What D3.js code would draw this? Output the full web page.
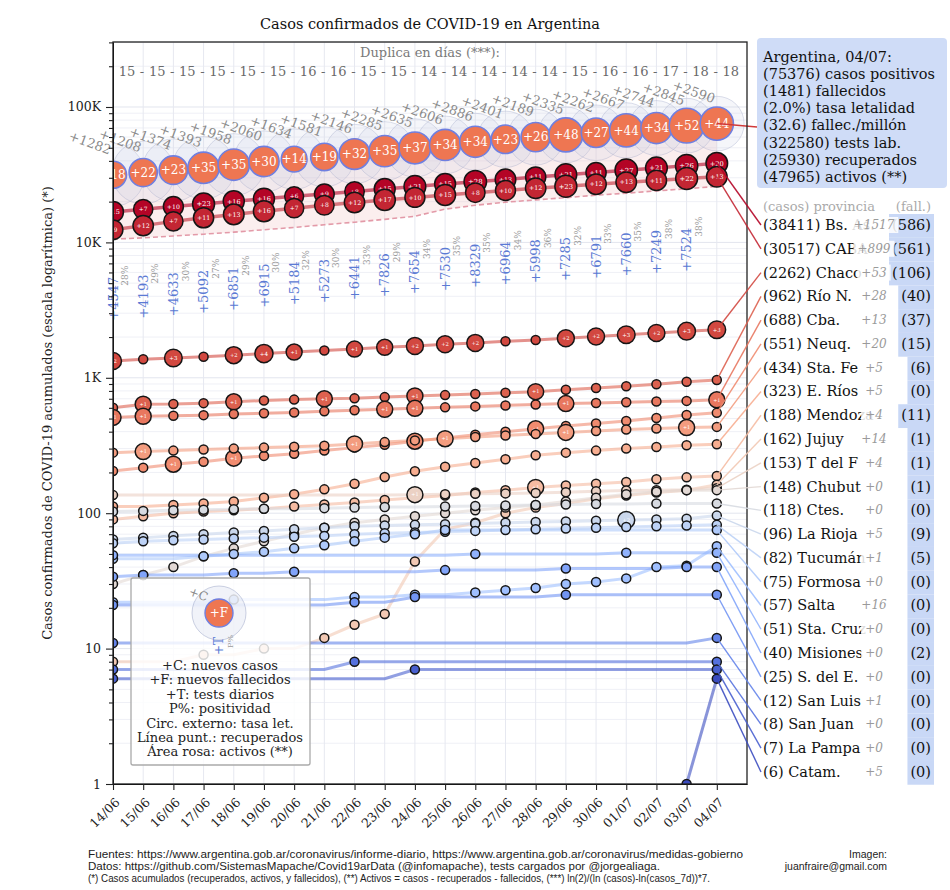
<!DOCTYPE html>
<html>
<head>
<meta charset="utf-8">
<title>Casos confirmados de COVID-19 en Argentina</title>
<script src="https://d3js.org/d3.v7.min.js"></script>
<style>
  body { margin: 0; background: #fff; }
  svg text { font-family: "DejaVu Serif", serif; }
  .foot { font-family: "Liberation Sans Narrow", "Liberation Sans", sans-serif; font-size: 10.5px; fill: #222; }
</style>
</head>
<body>
<div id="chart"></div>
<script>
// fechas (eje x)
const dates = ["14/06","15/06","16/06","17/06","18/06","19/06","20/06","21/06","22/06","23/06","24/06",
  "25/06","26/06","27/06","28/06","29/06","30/06","01/07","02/07","03/07","04/07"];
const yTickVals = [1, 10, 100, 1000, 10000, 100000];
const yTickLabels = ["1", "10", "100", "1K", "10K", "100K"];

// Argentina (total)
const argCasos = [31577,32785,34159,35552,37510,39570,41204,42785,44931,47216,49851,52457,55343,57744,59933,62268,64530,67197,69941,72786,75376];
const argNuevos = [1282,1208,1374,1393,1958,2060,1634,1581,2146,2285,2635,2606,2886,2401,2189,2335,2262,2667,2744,2845,2590];
const argNuevosFall = [18,22,23,35,35,30,14,19,32,35,37,34,34,23,26,48,27,44,34,52,44];
const argFall = [833,855,878,913,948,978,992,1011,1043,1078,1115,1149,1183,1206,1232,1280,1307,1351,1385,1437,1481];
const argRecuperados = [10570,10800,11150,11500,11900,12400,12900,13500,14100,14800,15600,17600,18800,19800,20600,21400,22300,23100,24000,24900,25930];
const tests = [4547,4193,4633,5092,6851,6915,5184,5273,6441,7826,7654,7530,8329,6964,5998,7285,6791,7660,7249,7524];
const positividad = [28,29,30,27,29,30,32,30,33,29,34,35,35,34,36,32,33,35,38,38];
const duplica = [15,15,15,15,15,15,16,16,15,15,14,14,14,14,14,15,16,16,17,18,18];
const resumen = ["Argentina, 04/07:", "(75376) casos positivos", "(1481) fallecidos", "(2.0%) tasa letalidad",
  "(32.6) fallec./millón", "(322580) tests lab.", "(25930) recuperados", "(47965) activos (**)"];

// provincias: casos acumulados por día
const casosBsAs = [16800,17600,18400,19200,20100,21000,21900,22800,23800,24800,25900,27000,28100,29200,30400,31600,32800,34100,35500,36894,38411];
const casosCABA = [12400,13300,14300,15200,16100,17000,17900,18800,19700,20600,21500,22400,23300,24200,25100,26000,26900,27800,28700,29618,30517];
const casosChaco = [1330,1370,1400,1430,1470,1510,1550,1590,1630,1680,1720,1770,1810,1860,1900,1960,2020,2080,2140,2209,2262];
const casosRioN = [600,638,640,650,665,680,690,700,705,720,735,745,760,775,790,815,840,865,895,934,962];
const casosCba = [510,520,525,530,540,548,555,565,575,585,595,605,615,625,635,645,652,660,668,675,688];
const casosNeuq = [205,217,230,240,255,265,275,290,305,320,340,360,380,400,420,440,460,480,505,531,551];
const casosStaFe = [280,285,290,295,300,305,310,315,325,335,345,355,365,375,385,395,405,415,422,429,434];
const casosERios = [112,112,115,118,122,130,138,150,165,185,204,220,235,250,268,280,290,300,308,318,323];
const casosMendoza = [90,95,100,103,105,108,112,116,120,125,130,135,142,148,155,160,165,170,178,184,188];
const casosJujuy = [8,8,8,9,9,10,10,12,15,18,44,76,85,100,110,118,128,135,142,148,162];
const casosTdelF = [136,136,136,136,136,136,136,136,136,136,137,138,139,140,141,143,145,147,148,149,153];
const casosChubut = [30,35,40,48,55,62,70,78,85,90,95,100,105,110,115,122,130,138,144,148,148];
const casosCtes = [103,104,105,106,107,108,108,109,110,111,111,112,113,114,115,116,117,117,118,118,118];
const casosLaRioja = [64,66,68,70,72,74,76,78,80,81,82,83,84,85,86,87,88,89,90,91,96];
const casosTucuman = [60,62,63,64,65,66,67,68,70,71,72,73,74,75,76,77,78,79,80,81,82];
const casosFormosa = [46,46,46,48,50,52,55,58,62,66,70,75,75,75,75,75,75,75,75,75,75];
const casosSalta = [22,22,22,22,23,23,23,23,24,24,25,25,26,27,28,30,31,33,40,41,57];
const casosStaCruz = [49,49,49,49,49,49,49,49,49,49,49,49,50,50,50,50,50,51,51,51,51];
const casosMisiones = [34,35,35,35,36,36,37,37,37,37,37,38,38,38,38,39,39,39,39,40,40];
const casosSdelE = [21,21,21,21,21,21,21,21,22,22,24,24,24,24,24,25,25,25,25,25,25];
const casosSanLuis = [11,11,11,11,11,11,11,11,11,11,11,11,11,11,11,11,11,11,11,11,12];
const casosSanJuan = [7,7,7,7,7,7,7,7,8,8,8,8,8,8,8,8,8,8,8,8,8];
const casosLaPampa = [6,6,6,6,6,6,6,6,6,6,7,7,7,7,7,7,7,7,7,7,7];
const casosCatam = [null,null,null,null,null,null,null,null,null,null,null,null,null,null,null,null,null,null,null,1,6];

// nuevos fallecidos por día
const fallBsAs = [15,7,10,23,16,16,6,9,8,15,21,15,28,13,11,21,11,27,21,26,20];
const fallCABA = [9,12,7,11,13,16,7,8,12,17,10,15,8,10,12,23,12,13,11,22,13];
const fallChaco = [2,0,3,0,2,4,1,0,1,1,2,2,2,0,0,2,2,3,2,3,3];
const fallRioN = [0,1,0,0,1,0,0,1,0,0,1,0,0,0,1,0,0,0,0,0,0];
const fallCba = [1,1,0,0,0,0,0,0,0,1,1,0,0,0,0,1,0,0,0,0,1];
const fallNeuq = [0,0,1,0,1,0,0,0,0,0,1,0,0,0,1,0,0,0,0,0,0];
const fallStaFe = [0,1,0,0,0,0,0,0,1,0,0,1,0,0,0,1,0,0,0,1,0];
const fallTdelF = [0,0,0,0,0,0,0,0,0,0,1,0,0,0,0,0,0,0,0,0,0];
const fallMendoza = [0,0,0,0,0,0,0,0,0,0,0,0,0,0,1,0,0,0,0,0,0];
const fallLaRioja = [0,0,0,0,0,0,0,0,0,0,0,0,0,0,0,0,0,2,0,0,0];

const provNames = ["Bs. As.","CABA","Chaco","Río N.","Cba.","Neuq.","Sta. Fe","E. Ríos","Mendoza","Jujuy","T del F","Chubut",
  "Ctes.","La Rioja","Tucumán","Formosa","Salta","Sta. Cruz","Misiones","S. del E.","San Luis","San Juan","La Pampa","Catam."];
const provFallTotal = [586,561,106,40,37,15,6,0,11,1,1,1,0,9,5,0,0,0,2,0,0,0,0,0];
const provCasos = [casosBsAs,casosCABA,casosChaco,casosRioN,casosCba,casosNeuq,casosStaFe,casosERios,casosMendoza,casosJujuy,
  casosTdelF,casosChubut,casosCtes,casosLaRioja,casosTucuman,casosFormosa,casosSalta,casosStaCruz,casosMisiones,casosSdelE,
  casosSanLuis,casosSanJuan,casosLaPampa,casosCatam];
const provFall = [fallBsAs,fallCABA,fallChaco,fallRioN,fallCba,fallNeuq,fallStaFe,null,fallMendoza,null,
  fallTdelF,null,null,fallLaRioja,null,null,null,null,null,null,null,null,null,null];

const leyenda = ["+C: nuevos casos","+F: nuevos fallecidos","+T: tests diarios","P%: positividad",
  "Circ. externo: tasa let.","Línea punt.: recuperados","Área rosa: activos (**)"];
const fuentes = ["Fuentes: https://www.argentina.gob.ar/coronavirus/informe-diario, https://www.argentina.gob.ar/coronavirus/medidas-gobierno",
  "Datos: https://github.com/SistemasMapache/Covid19arData (@infomapache), tests cargados por @jorgealiaga.",
  "(*) Casos acumulados (recuperados, activos, y fallecidos), (**) Activos = casos - recuperados - fallecidos, (***) ln(2)/(ln (casos)-ln(casos_7d))*7."];
const fuentesAncho = [655, 572, 622];

// ---------------------------------------------------------------
const W = 950, H = 890;
const plot = {left: 113, right: 747, top: 42, bottom: 784};
const svg = d3.select("#chart").append("svg").attr("width", W).attr("height", H);

const x = d3.scaleLinear().domain([0, 21]).range([plot.left, plot.right]);
const y = d3.scaleLog().domain([1, Math.pow(10, 5.48)]).range([plot.bottom, plot.top]);

const cwStops = ["#3b4cc0","#5977e3","#7b9ff9","#9ebeff","#c0d4f5","#dddcdc","#f2cbb7","#f7ac8e","#ee8468","#d65244","#b40426"];
const coolwarm = d3.scaleLinear().domain(d3.range(11).map(i => i / 10)).range(cwStops);
const provColor = i => coolwarm(1 - i / 23);

svg.append("clipPath").attr("id", "clip").append("rect")
  .attr("x", plot.left).attr("y", plot.top)
  .attr("width", plot.right - plot.left).attr("height", plot.bottom - plot.top);

// grid
const minorVals = [];
for (let e = 0; e <= 5; e++) for (let k = 2; k <= 9; k++) {
  const v = k * Math.pow(10, e);
  if (v < Math.pow(10, 5.48)) minorVals.push(v);
}
const grid = svg.append("g");
grid.selectAll(".gm").data(minorVals).enter().append("line")
  .attr("x1", plot.left).attr("x2", plot.right).attr("y1", d => y(d)).attr("y2", d => y(d))
  .attr("stroke", "#eff0f6").attr("stroke-width", 1);
grid.selectAll(".gM").data(yTickVals).enter().append("line")
  .attr("x1", plot.left).attr("x2", plot.right).attr("y1", d => y(d)).attr("y2", d => y(d))
  .attr("stroke", "#e2e5ee").attr("stroke-width", 1);
grid.selectAll(".gx").data(dates).enter().append("line")
  .attr("x1", (d, i) => x(i)).attr("x2", (d, i) => x(i)).attr("y1", plot.top).attr("y2", plot.bottom)
  .attr("stroke", "#e6e8f0").attr("stroke-width", 1);

const g = svg.append("g").attr("clip-path", "url(#clip)");

// área activos
const idx = d3.range(dates.length);
g.append("path").datum(idx)
  .attr("d", d3.area().x(i => x(i)).y0(i => y(argRecuperados[i])).y1(i => y(argCasos[i])))
  .attr("fill", "#f2c6c6").attr("opacity", 0.3);

// circulos externos (tasa de letalidad)
g.selectAll(".outer").data(idx).enter().append("circle")
  .attr("cx", i => x(i)).attr("cy", i => y(argCasos[i]))
  .attr("r", i => 19.5 * Math.sqrt(100 * argFall[i] / argCasos[i]))
  .attr("fill", "#c9cfe6").attr("fill-opacity", 0.18)
  .attr("stroke", "#9aa3c6").attr("stroke-opacity", 0.35);

// recuperados
g.append("path").datum(idx)
  .attr("d", d3.line().x(i => x(i)).y(i => y(argRecuperados[i])))
  .attr("fill", "none").attr("stroke", "#e39aa8").attr("stroke-width", 1.6).attr("stroke-dasharray", "5,3");

// provincias: lineas
const line = d3.line().defined(d => d != null).x((d, i) => x(i)).y(d => y(d));
provCasos.forEach((casos, p) => {
  g.append("path").datum(casos).attr("d", line)
    .attr("fill", "none").attr("stroke", provColor(p))
    .attr("stroke-width", p < 2 ? 3.5 : 3).attr("stroke-opacity", 0.6);
});

// provincias: circulos
const rProv = d => d > 0 ? 5 + 3 * Math.pow(d, 0.22) : 4.5;
provCasos.forEach((casos, p) => {
  const fall = provFall[p];
  const pts = [];
  casos.forEach((v, i) => {
    if (v == null) return;
    const prev = i > 0 ? casos[i - 1] : null;
    const d = fall ? fall[i] : 0;
    if (prev == null || v > prev || d > 0 || i === casos.length - 1) pts.push({i, v, d});
  });
  const gp = g.append("g");
  gp.selectAll("circle").data(pts).enter().append("circle")
    .attr("cx", d => x(d.i)).attr("cy", d => y(d.v)).attr("r", d => rProv(d.d))
    .attr("fill", provColor(p)).attr("stroke", "#151515").attr("stroke-width", 1.5);
  gp.selectAll("text").data(pts.filter(d => d.d > 0)).enter().append("text")
    .attr("x", d => x(d.i)).attr("y", d => y(d.v)).attr("dy", "0.35em")
    .attr("text-anchor", "middle").attr("fill", "#fff")
    .attr("font-size", d => rProv(d.d) * 0.62)
    .text(d => "+" + d.d);
});

// Argentina: linea y circulos
const rArg = d => 8 + 1.3 * Math.sqrt(d);
svg.append("line")
  .attr("x1", x(20)).attr("y1", y(argCasos[20])).attr("x2", 757).attr("y2", 127)
  .attr("stroke", "#d03a3a").attr("stroke-width", 1.5);
g.selectAll(".arg").data(idx).enter().append("circle")
  .attr("cx", i => x(i)).attr("cy", i => y(argCasos[i])).attr("r", i => rArg(argNuevosFall[i]))
  .attr("fill", "#ee7652").attr("stroke", "#6f7fe0").attr("stroke-width", 1.6);
g.selectAll(".argt").data(idx).enter().append("text")
  .attr("x", i => x(i)).attr("y", i => y(argCasos[i])).attr("dy", "0.36em")
  .attr("text-anchor", "middle").attr("fill", "#fff").attr("font-size", 12)
  .text(i => "+" + argNuevosFall[i]);

// nuevos casos (etiquetas grises inclinadas)
svg.selectAll(".nc").data(idx).enter().append("text")
  .attr("transform", i => `translate(${x(i) - 23},${y(argCasos[i]) - 32}) rotate(20)`)
  .attr("text-anchor", "middle").attr("dy", "0.35em")
  .attr("fill", "#8a8a8a").attr("font-size", 13)
  .text(i => "+" + argNuevos[i]);

// tests y positividad
svg.selectAll(".tests").data(tests).enter().append("text")
  .attr("transform", (d, i) => `translate(${x(i)},${y(argCasos[i]) + 102}) rotate(-90)`)
  .attr("text-anchor", "end").attr("dy", "0.35em")
  .attr("fill", "#5b7ad4").attr("font-size", 13)
  .text(d => "+" + d);
svg.selectAll(".pos").data(positividad).enter().append("text")
  .attr("transform", (d, i) => `translate(${x(i) + 12},${y(argCasos[i]) + 91}) rotate(-90)`)
  .attr("text-anchor", "end").attr("dy", "0.35em")
  .attr("fill", "#9a9a9a").attr("font-size", 9)
  .text(d => d + "%");

// duplica en dias
svg.append("text").attr("x", 430).attr("y", 57).attr("text-anchor", "middle")
  .attr("fill", "#7a7a7a").attr("font-size", 13).text("Duplica en días (***):");
svg.selectAll(".dup").data(duplica).enter().append("text")
  .attr("x", (d, i) => x(i) + 14).attr("y", 76).attr("text-anchor", "middle")
  .attr("fill", "#6a6a6a").attr("font-size", 13).text(d => d);
svg.selectAll(".dupsep").data(duplica.slice(1)).enter().append("text")
  .attr("x", (d, i) => x(i) + 29).attr("y", 76).attr("text-anchor", "middle")
  .attr("fill", "#6a6a6a").attr("font-size", 13).text("-");

// ejes
svg.append("g").attr("transform", `translate(${plot.left},0)`)
  .call(d3.axisLeft(y).tickValues(yTickVals).tickFormat((d, i) => yTickLabels[i]).tickSize(7).tickPadding(5).tickSizeOuter(0));
svg.append("g").attr("transform", `translate(${plot.left},0)`)
  .call(d3.axisLeft(y).tickValues(minorVals).tickFormat("").tickSize(4).tickSizeOuter(0))
  .select(".domain").remove();
const xAxis = svg.append("g").attr("transform", `translate(0,${plot.bottom})`)
  .call(d3.axisBottom(x).tickValues(idx).tickFormat(i => dates[i]).tickSize(6).tickSizeOuter(0));
xAxis.selectAll("text")
  .attr("x", 0).attr("y", 0).attr("dy", "0.35em")
  .attr("transform", "translate(4,16) rotate(-45)")
  .style("text-anchor", "end");
svg.selectAll(".tick text").attr("font-family", "DejaVu Serif").attr("font-size", 12.5).attr("fill", "#222");
svg.selectAll(".tick line").attr("stroke", "#222").attr("stroke-width", 1.1);

svg.append("rect").attr("x", plot.left).attr("y", plot.top)
  .attr("width", plot.right - plot.left).attr("height", plot.bottom - plot.top)
  .attr("fill", "none").attr("stroke", "#222").attr("stroke-width", 1.3);

// titulos
svg.append("text").attr("x", 430).attr("y", 29).attr("text-anchor", "middle")
  .attr("font-size", 14.5).attr("fill", "#111").text("Casos confirmados de COVID-19 en Argentina");
svg.append("text").attr("transform", "translate(52,413) rotate(-90)").attr("text-anchor", "middle")
  .attr("font-size", 13).attr("fill", "#222")
  .text("Casos confirmados de COVID-19 acumulados (escala logarítmica) (*)");

// leyenda
const lg = svg.append("g");
lg.append("rect").attr("x", 131).attr("y", 578).attr("width", 179).attr("height", 187)
  .attr("fill", "#fff").attr("fill-opacity", 0.82).attr("stroke", "#aaa").attr("stroke-width", 1.3).attr("rx", 2);
lg.append("circle").attr("cx", 219).attr("cy", 613).attr("r", 27)
  .attr("fill", "#c9cfe6").attr("fill-opacity", 0.25).attr("stroke", "#9aa3c6").attr("stroke-opacity", 0.5);
lg.append("circle").attr("cx", 219).attr("cy", 613).attr("r", 14)
  .attr("fill", "#ee7652").attr("stroke", "#6f7fe0").attr("stroke-width", 1.4);
lg.append("text").attr("x", 219).attr("y", 613).attr("dy", "0.36em").attr("text-anchor", "middle")
  .attr("fill", "#fff").attr("font-size", 12).text("+F");
lg.append("text").attr("transform", "translate(197,598) rotate(20)").attr("text-anchor", "middle")
  .attr("fill", "#8a8a8a").attr("font-size", 12).text("+C");
lg.append("text").attr("transform", "translate(219,655) rotate(-90)").attr("dy", "0.35em")
  .attr("fill", "#5b7ad4").attr("font-size", 12).text("+T");
lg.append("text").attr("transform", "translate(230,648) rotate(-90)").attr("dy", "0.35em")
  .attr("fill", "#9a9a9a").attr("font-size", 8).text("P%");
lg.selectAll(".lt").data(leyenda).enter().append("text")
  .attr("x", 220).attr("y", (d, i) => 670 + i * 14.4).attr("text-anchor", "middle")
  .attr("font-size", 13).attr("fill", "#222").text(d => d);

// resumen Argentina
svg.append("rect").attr("x", 757).attr("y", 38).attr("width", 190).attr("height", 150)
  .attr("fill", "#cfdcf7").attr("rx", 4);
svg.selectAll(".res").data(resumen).enter().append("text")
  .attr("x", 763).attr("y", (d, i) => 62 + i * 17.1)
  .attr("font-size", 14.5).attr("fill", "#111").text(d => d);

// etiquetas de provincias
const labelY = i => 225 + i * 23.78;
svg.append("text").attr("x", 763).attr("y", 211).attr("font-size", 13).attr("fill", "#aaa").text("(casos) provincia");
svg.append("text").attr("x", 931).attr("y", 211).attr("text-anchor", "end").attr("font-size", 13).attr("fill", "#aaa").text("(fall.)");

provCasos.forEach((casos, p) => {
  const last = casos[20], prev = casos[19] == null ? 0 : casos[19];
  const ly = labelY(p);
  svg.append("line")
    .attr("x1", x(20)).attr("y1", y(last)).attr("x2", 761).attr("y2", ly)
    .attr("stroke", provColor(p)).attr("stroke-width", 1.4).attr("stroke-opacity", 0.9);
  svg.append("text").attr("x", 763).attr("y", ly + 5).attr("font-size", 14.5).attr("fill", "#111")
    .text(`(${last}) ${provNames[p]}`);
  // fallecidos
  const gf = svg.append("g");
  const fb = gf.append("rect");
  const ft = gf.append("text").attr("x", 931).attr("y", ly + 5).attr("text-anchor", "end")
    .attr("font-size", 14.5).attr("fill", "#111").text(`(${provFallTotal[p]})`);
  const fw = ft.node().getComputedTextLength() + 6;
  fb.attr("x", 934 - fw).attr("y", ly - 11).attr("width", fw).attr("height", 23.8)
    .attr("fill", "#c9d8f6");
  // nuevos casos del dia
  const gn = svg.append("g");
  const bg = gn.append("rect");
  const nt = gn.append("text").attr("x", 874).attr("y", ly + 4).attr("text-anchor", "middle")
    .attr("font-size", 12).attr("font-style", "italic").attr("fill", "#9a9a9a").text("+" + (last - prev));
  const w = nt.node().getComputedTextLength() + 8;
  bg.attr("x", 874 - w / 2).attr("y", ly - 8).attr("width", w).attr("height", 16)
    .attr("fill", "#fff").attr("opacity", 0.85);
});

// pie
svg.selectAll(".f").data(fuentes).enter().append("text").attr("class", "foot")
  .attr("x", 88).attr("y", (d, i) => 858 + i * 12)
  .attr("textLength", (d, i) => fuentesAncho[i]).attr("lengthAdjust", "spacingAndGlyphs")
  .text(d => d);
svg.append("text").attr("class", "foot").attr("x", 887).attr("y", 858).attr("text-anchor", "end").text("Imagen:");
svg.append("text").attr("class", "foot").attr("x", 887).attr("y", 870).attr("text-anchor", "end").text("juanfraire@gmail.com");
</script>
</body>
</html>
